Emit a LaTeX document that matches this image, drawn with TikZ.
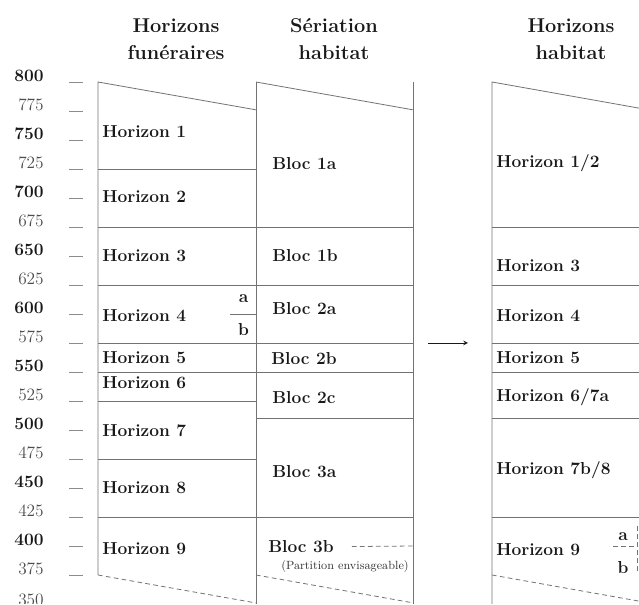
\documentclass[tikz,border=0pt]{standalone}
\usepackage{fontspec}
\begin{document}
\begin{tikzpicture}[x=0.75pt,y=0.87pt,>=stealth,
    rule/.style={black!55,line width=0.6pt},
    cut/.style={black!55,line width=0.6pt,dash pattern=on 3.5pt off 2.5pt},
    cell/.style={anchor=west,inner sep=0pt,text=black!90,
        font=\fontsize{13}{15}\selectfont\bfseries},
    head/.style={align=center,inner sep=0pt,text=black!90,
        font=\fontsize{15}{20.8}\selectfont\bfseries},
    num/.style={anchor=base east,inner sep=0pt,font=\fontsize{13}{15}\selectfont}]
    \clip (0,350) rectangle (639,870.7);

    \node[head] (tfun) at (176,837) {Horizons\\funéraires};
    \node[head] (tser) at (334,837) {Sériation\\habitat};
    \node[head] (thab) at (571,837) {Horizons\\habitat};

    % Echelle
    \foreach \v in {400,450,...,800}
        \node[num,font=\fontsize{13}{15}\selectfont\bfseries,text=black!90] (n\v) at (44,\v) {\v};
    \foreach \v in {375,425,...,775}
        \node[num,text=black!70] (n\v) at (44,\v) {\v};
    \node[num,text=black!70] (n350) at (44,349) {350};
    \foreach \v in {375,400,...,800}
        \draw[black!45,line width=0.6pt] (69,\v) -- (83,\v);

    % Horizons funéraires
    \draw[rule] (98,375) -- (98,800) -- (256,776);
    \draw[rule] (256,350) -- (256,800);
    \foreach \v in {725,675,625,575,550,525,475,425}
        \draw[rule] (98,\v) -- (256,\v);
    \draw[rule] (230,600) -- (256,600);
    \draw[cut] (98,375) -- (256,350.9);
    \node[cell] (fun1) at (102,757) {Horizon 1};
    \node[cell] (fun2) at (102,701) {Horizon 2};
    \node[cell] (fun3) at (102,650) {Horizon 3};
    \node[cell] (fun4) at (102,599) {Horizon 4};
    \node[cell] (fun5) at (102,562) {Horizon 5};
    \node[cell] (fun6) at (102,540.5) {Horizon 6};
    \node[cell] (fun7) at (102,499.5) {Horizon 7};
    \node[cell] (fun8) at (102,450) {Horizon 8};
    \node[cell] (fun9) at (102,398) {Horizon 9};
    \node[cell,anchor=center] (fun4a) at (243.5,613) {a};
    \node[cell,anchor=center] (fun4b) at (243.5,587) {b};

    % Sériation habitat
    \draw[rule] (256,800) -- (413,776);
    \draw[rule] (413,350) -- (413,800);
    \foreach \v in {675,625,575,550,510,425}
        \draw[rule] (256,\v) -- (413,\v);
    \draw[cut] (256,375) -- (413,351);
    \node[cell] (ser1a) at (272,730) {Bloc 1a};
    \node[cell] (ser1b) at (272,650) {Bloc 1b};
    \node[cell] (ser2a) at (272,605) {Bloc 2a};
    \node[cell] (ser2b) at (271,562) {Bloc 2b};
    \node[cell] (ser2c) at (272,528) {Bloc 2c};
    \node[cell] (ser3a) at (272,464) {Bloc 3a};
    \node[cell] (ser3b) at (268,399.5) {Bloc 3b};
    \draw[cut] (ser3b.east) ++(18,0) coordinate (p3b) -- (413,400);
    \node[inner sep=0pt,text=black!80,font=\fontsize{8.9}{10}\selectfont]
        (part) at (345,382) {(Partition envisageable)};

    % Passage aux horizons habitat
    \coordinate (arrS) at (428,575);
    \coordinate (arrE) at (468,575);
    \draw[->,black!90,line width=0.6pt] (arrS) -- (arrE);

    % Horizons habitat
    \draw[rule] (492,350) -- (492,800) -- (650,775.8);
    \foreach \v in {675,625,575,550,510,425}
        \draw[rule] (492,\v) -- (650,\v);
    \draw[cut] (492,375) -- (650,350.8);
    \draw[cut] (613,400) -- (637,400);
    \draw[cut] (637,417) -- (637,378);
    \node[cell] (hab12) at (496,730) {Horizon 1/2};
    \node[cell] (hab3) at (496,642) {Horizon 3};
    \node[cell] (hab4) at (496,599) {Horizon 4};
    \node[cell] (hab5) at (496,562) {Horizon 5};
    \node[cell] (hab67) at (496,528) {Horizon 6/7a};
    \node[cell] (hab78) at (496,465.5) {Horizon 7b/8};
    \node[cell] (hab9) at (496,396.5) {Horizon 9};
    \node[cell,anchor=center] (hab9a) at (623,408) {a};
    \node[cell,anchor=center] (hab9b) at (623,381) {b};
\end{tikzpicture}
\end{document}
